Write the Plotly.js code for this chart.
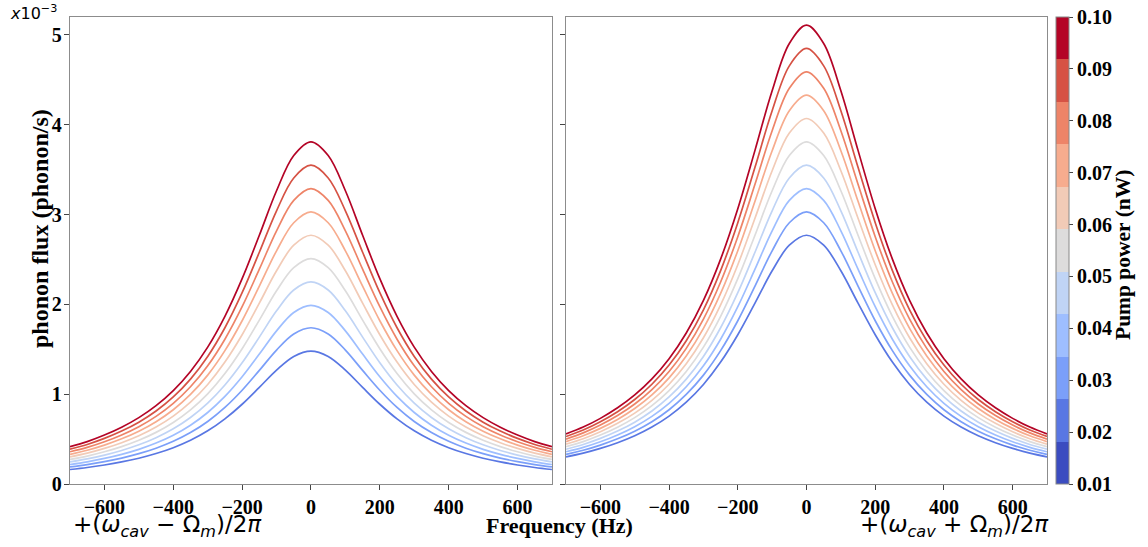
<!DOCTYPE html>
<html>
<head>
<meta charset="utf-8">
<script src="https://cdn.plot.ly/plotly-3.0.1.min.js"></script>
<style>html,body{margin:0;padding:0;background:#fff;}#chart{width:1148px;height:547px;}</style>
</head>
<body>
<div id="chart"></div>
<script>
// Frequency offset samples (Hz)
const freq = [-700,-650,-600,-550,-500,-450,-400,-350,-300,-250,-200,-150,-100,-50,0,50,100,150,200,250,300,350,400,450,500,550,600,650,700];
// Normalised line shape (peak = 1)
const profile = [0.109,0.124,0.143,0.166,0.194,0.229,0.273,0.329,0.400,0.490,0.600,0.727,0.857,0.960,1.000,0.960,0.857,0.727,0.600,0.490,0.400,0.329,0.273,0.229,0.194,0.166,0.143,0.124,0.109];
// Pump powers (nW)
const powers = [0.01,0.02,0.03,0.04,0.05,0.06,0.07,0.08,0.09,0.10];
// Peak phonon flux (x1e-3 phonon/s) per pump power
const peakLeft  = [1.48,1.74,1.99,2.25,2.51,2.77,3.03,3.29,3.55,3.81];
const peakRight = [2.77,3.03,3.29,3.55,3.81,4.07,4.33,4.59,4.85,5.11];
// Line colours (coolwarm)
const lineColors = ['#5977e3','#7b9ff9','#9ebeff','#c0d4f5','#dddcdc','#f2cbb7','#f7ac8e','#ee8468','#d65244','#b40426'];
// Colorbar bins (coolwarm, 11 levels)
const barColors = ['#3b4cc0','#5977e3','#7b9ff9','#9ebeff','#c0d4f5','#dddcdc','#f2cbb7','#f7ac8e','#ee8468','#d65244','#b40426'];
const barTicks = [0.01,0.02,0.03,0.04,0.05,0.06,0.07,0.08,0.09,0.10];
const barTickText = ['0.01','0.02','0.03','0.04','0.05','0.06','0.07','0.08','0.09','0.10'];

const serif = 'Liberation Serif, Times New Roman, serif';
const sans = 'DejaVu Sans, sans-serif';

const traces = [];
powers.forEach((p, i) => {
  traces.push({x: freq, y: profile.map(v => v * peakLeft[i]), xaxis: 'x', yaxis: 'y', mode: 'lines',
    line: {color: lineColors[i], width: 1.7, shape: 'spline'}, showlegend: false, hoverinfo: 'skip'});
  traces.push({x: freq, y: profile.map(v => v * peakRight[i]), xaxis: 'x2', yaxis: 'y2', mode: 'lines',
    line: {color: lineColors[i], width: 1.7, shape: 'spline'}, showlegend: false, hoverinfo: 'skip'});
});

const cs = [];
barColors.forEach((c, i) => { cs.push([i / barColors.length, c]); cs.push([(i + 1) / barColors.length, c]); });

traces.push({x: [0, 0], y: [-10, -10], xaxis: 'x2', yaxis: 'y2', mode: 'markers', showlegend: false, hoverinfo: 'skip',
  marker: {color: [0.01, 0.10], cmin: 0.01, cmax: 0.10, colorscale: cs, showscale: true, size: 1,
    colorbar: {x: 1.0092, xanchor: 'left', xpad: 0, ypad: 0, y: 0.5, yanchor: 'middle', len: 1, lenmode: 'fraction',
      thickness: 13, thicknessmode: 'pixels', outlinecolor: '#888', outlinewidth: 1,
      tickvals: barTicks, ticktext: barTickText, ticks: 'outside', ticklen: 4, tickcolor: '#444',
      tickfont: {family: serif, size: 20, color: '#000', weight: 'bold'}}}});

const axCommon = {showgrid: false, zeroline: false, showline: true, mirror: true, linecolor: '#8c8c8c', linewidth: 1.3,
  ticks: 'outside', ticklen: 5, tickcolor: '#444', tickfont: {family: serif, size: 20, color: '#000', weight: 'bold'}};

const layout = {
  width: 1148, height: 547,
  margin: {l: 70, r: 101, t: 17, b: 63},
  paper_bgcolor: '#fff', plot_bgcolor: '#fff',
  xaxis: Object.assign({}, axCommon, {domain: [0, 0.4933], range: [-700, 700], tickvals: [-600,-400,-200,0,200,400,600], anchor: 'y'}),
  xaxis2: Object.assign({}, axCommon, {domain: [0.5077, 1], range: [-700, 700], tickvals: [-600,-400,-200,0,200,400,600], anchor: 'y2'}),
  yaxis: Object.assign({}, axCommon, {range: [0, 5.2], tickvals: [0,1,2,3,4,5], anchor: 'x', ticklabelstandoff: -2}),
  yaxis2: Object.assign({}, axCommon, {range: [0, 5.2], tickvals: [0,1,2,3,4,5], showticklabels: false, anchor: 'x2'}),
  annotations: [
    {text: 'phonon flux (phonon/s)', xref: 'paper', yref: 'paper', x: (40 - 70) / 977, y: (484 - 229) / 467, xanchor: 'center', yanchor: 'middle',
      textangle: -90, showarrow: false, font: {family: serif, size: 24, color: '#000', weight: 'bold'}},
    {text: 'Frequency (Hz)', xref: 'paper', yref: 'paper', x: (559 - 70) / 977, y: (484 - 525) / 467, xanchor: 'center', yanchor: 'middle',
      showarrow: false, font: {family: serif, size: 22, color: '#000', weight: 'bold'}},
    {text: '+(<i>ω</i><sub><i>cav</i></sub> − Ω<sub><i>m</i></sub>)/2<i>π</i>', xref: 'paper', yref: 'paper',
      x: (71 - 70) / 977, y: (484 - 509) / 467, xanchor: 'left', yanchor: 'top', showarrow: false,
      font: {family: sans, size: 23, color: '#000'}},
    {text: '+(<i>ω</i><sub><i>cav</i></sub> + Ω<sub><i>m</i></sub>)/2<i>π</i>', xref: 'paper', yref: 'paper',
      x: (1051 - 70) / 977, y: (484 - 509) / 467, xanchor: 'right', yanchor: 'top', showarrow: false,
      font: {family: sans, size: 23, color: '#000'}},
    {text: '<i>x</i>10<sup>−3</sup>', xref: 'paper', yref: 'paper', x: (8 - 70) / 977, y: (484 - 13) / 467,
      xanchor: 'left', yanchor: 'middle', showarrow: false, font: {family: sans, size: 16, color: '#000'}},
    {text: 'Pump power (nW)', xref: 'paper', yref: 'paper', x: (1123 - 70) / 977, y: (484 - 255) / 467,
      xanchor: 'center', yanchor: 'middle', textangle: -90, showarrow: false,
      font: {family: serif, size: 21.5, color: '#000', weight: 'bold'}}
  ]
};

Plotly.newPlot('chart', traces, layout, {displayModeBar: false, staticPlot: true});
</script>
</body>
</html>
